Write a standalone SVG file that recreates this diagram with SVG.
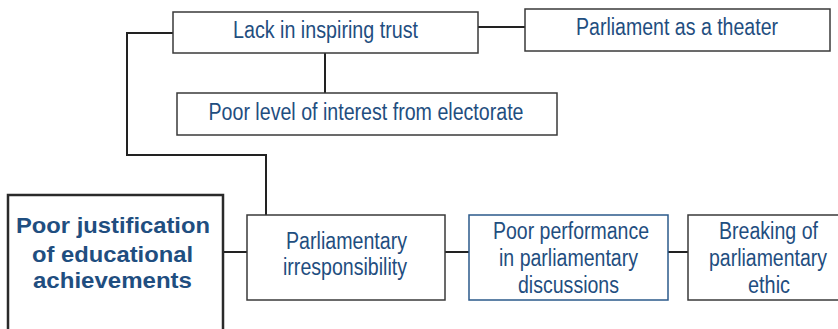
<svg xmlns="http://www.w3.org/2000/svg" width="838" height="329" viewBox="0 0 838 329">
<style>
.box{fill:#fff;stroke:#3a3a3a;stroke-width:1.5}
.blue{fill:#fff;stroke:#2b5a8a;stroke-width:1.5}
.main{fill:#fff;stroke:#2a2a2a;stroke-width:2.5}
.t{font-family:"Liberation Sans",Arial,sans-serif;font-size:23px;fill:#1f4e80;text-anchor:middle}
.b{font-family:"Liberation Sans",Arial,sans-serif;font-size:22px;font-weight:bold;fill:#1f4e80;text-anchor:middle}
.c{fill:none;stroke:#222;stroke-width:2}
</style>
<g id="connectors">
<path class="c" d="M478 27H525"/>
<path class="c" d="M325 53V93"/>
<path class="c" d="M173 33H127V155H266V215"/>
<path class="c" d="M223 252H247"/>
<path class="c" d="M445 252H469"/>
<path class="c" d="M668 252H688"/>
</g>
<g id="lack">
<rect class="box" x="173" y="12" width="305" height="41"/>
<text class="t" x="325.5" y="38" textLength="185" lengthAdjust="spacingAndGlyphs">Lack in inspiring trust</text>
</g>
<g id="theater">
<rect class="box" x="525" y="9" width="305" height="42"/>
<text class="t" x="677" y="35" textLength="202" lengthAdjust="spacingAndGlyphs">Parliament as a theater</text>
</g>
<g id="interest">
<rect class="box" x="177" y="93" width="380" height="42"/>
<text class="t" x="366" y="120" textLength="315" lengthAdjust="spacingAndGlyphs">Poor level of interest from electorate</text>
</g>
<g id="main">
<rect class="main" x="8" y="195" width="215" height="150"/>
<text class="b" x="113" y="233" textLength="194" lengthAdjust="spacingAndGlyphs">Poor justification</text>
<text class="b" x="112.5" y="262" textLength="161" lengthAdjust="spacingAndGlyphs">of educational</text>
<text class="b" x="112.5" y="288" textLength="159" lengthAdjust="spacingAndGlyphs">achievements</text>
</g>
<g id="irresponsibility">
<rect class="box" x="247" y="215" width="198" height="85"/>
<text class="t" x="346.5" y="249" textLength="121" lengthAdjust="spacingAndGlyphs">Parliamentary</text>
<text class="t" x="345" y="275" textLength="124" lengthAdjust="spacingAndGlyphs">irresponsibility</text>
</g>
<g id="performance">
<rect class="blue" x="469" y="215" width="199" height="85"/>
<text class="t" x="571" y="239" textLength="156" lengthAdjust="spacingAndGlyphs">Poor performance</text>
<text class="t" x="568.5" y="266" textLength="139" lengthAdjust="spacingAndGlyphs">in parliamentary</text>
<text class="t" x="568.5" y="293" textLength="101" lengthAdjust="spacingAndGlyphs">discussions</text>
</g>
<g id="ethic">
<rect class="box" x="688" y="215" width="170" height="85"/>
<text class="t" x="768.5" y="239" textLength="99" lengthAdjust="spacingAndGlyphs">Breaking of</text>
<text class="t" x="768" y="266" textLength="118" lengthAdjust="spacingAndGlyphs">parliamentary</text>
<text class="t" x="769" y="293" textLength="42" lengthAdjust="spacingAndGlyphs">ethic</text>
</g>
</svg>
